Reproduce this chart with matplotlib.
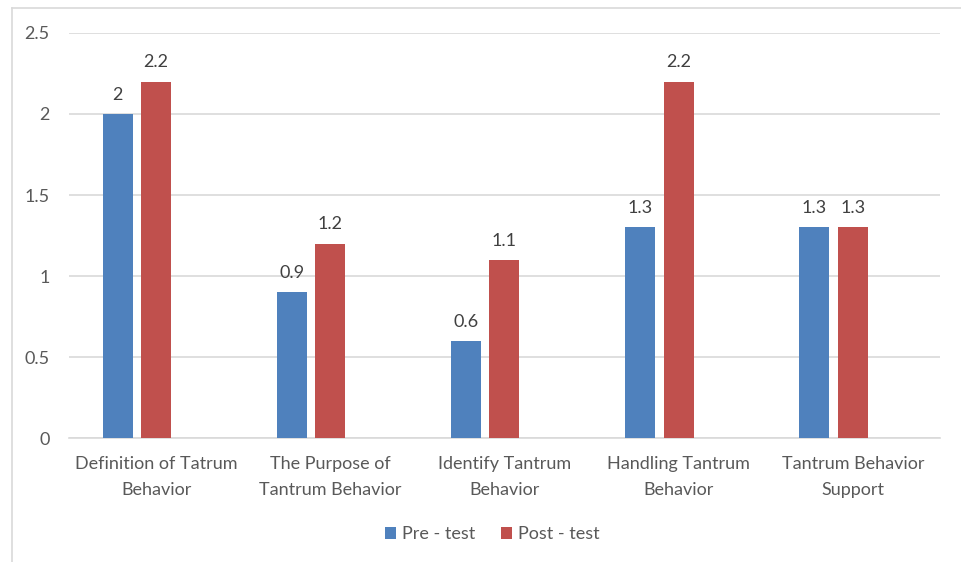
import numpy as np
import matplotlib
matplotlib.use("Agg")
import matplotlib.pyplot as plt
from matplotlib.lines import Line2D

categories = ["Definition of Tatrum\nBehavior", "The Purpose of\nTantrum Behavior",
              "Identify Tantrum\nBehavior", "Handling Tantrum\nBehavior",
              "Tantrum Behavior\nSupport"]
pre_test = [2, 0.9, 0.6, 1.3, 1.3]
post_test = [2.2, 1.2, 1.1, 2.2, 1.3]
y_ticks = [0, 0.5, 1, 1.5, 2, 2.5]

blue = "#4F81BD"
red = "#C0504D"
grey_text = "#595959"
grid_col = "#D9D9D9"

plt.rcParams['font.family'] = ['Lato', 'DejaVu Sans']

fig = plt.figure(figsize=(9.61, 5.62), dpi=100)
ax = fig.add_axes([0.0718, 0.2206, 0.9062, 0.7207])

x = np.arange(len(categories))
w = 0.172
off = 0.221
b1 = ax.bar(x - off, pre_test, w, color=blue, label="Pre - test", zorder=3)
b2 = ax.bar(x, post_test, w, color=red, label="Post - test", zorder=3)

for bars, vals in ((b1, pre_test), (b2, post_test)):
    for bar, v in zip(bars, vals):
        ax.annotate(f"{v:g}", (bar.get_x() + bar.get_width() / 2, v),
                    xytext=(0, 8), textcoords="offset points",
                    ha="center", va="bottom", fontsize=13, color="#404040")

ax.set_xlim(-0.5, len(categories) - 0.5)
ax.set_ylim(0, 2.5)
ax.set_yticks(y_ticks)
ax.set_yticklabels([f"{t:g}" for t in y_ticks])
ax.set_xticks(x)
ax.set_xticklabels(categories, linespacing=1.75)
ax.tick_params(axis="both", length=0, labelsize=13, labelcolor=grey_text)
ax.tick_params(axis="y", pad=14)
ax.tick_params(axis="x", pad=13)
ax.yaxis.grid(True, color=grid_col, linewidth=1.2, zorder=0)
for s in ["top", "right", "left"]:
    ax.spines[s].set_visible(False)
ax.spines["bottom"].set_color(grid_col)
ax.spines["bottom"].set_linewidth(1.2)

ax.legend(loc="upper center", bbox_to_anchor=(0.486, -0.178), ncol=2, frameon=False,
          fontsize=13, labelcolor=grey_text, handlelength=0.6, handleheight=0.6,
          handletextpad=0.35, columnspacing=1.4)

# outer chart frame
fig.add_artist(Line2D([12 / 961, 12 / 961], [0, 1 - 8 / 562], color=grid_col, lw=1.2))
fig.add_artist(Line2D([12 / 961, 1], [1 - 8 / 562, 1 - 8 / 562], color=grid_col, lw=1.2))

fig.savefig("out.png", dpi=100)
